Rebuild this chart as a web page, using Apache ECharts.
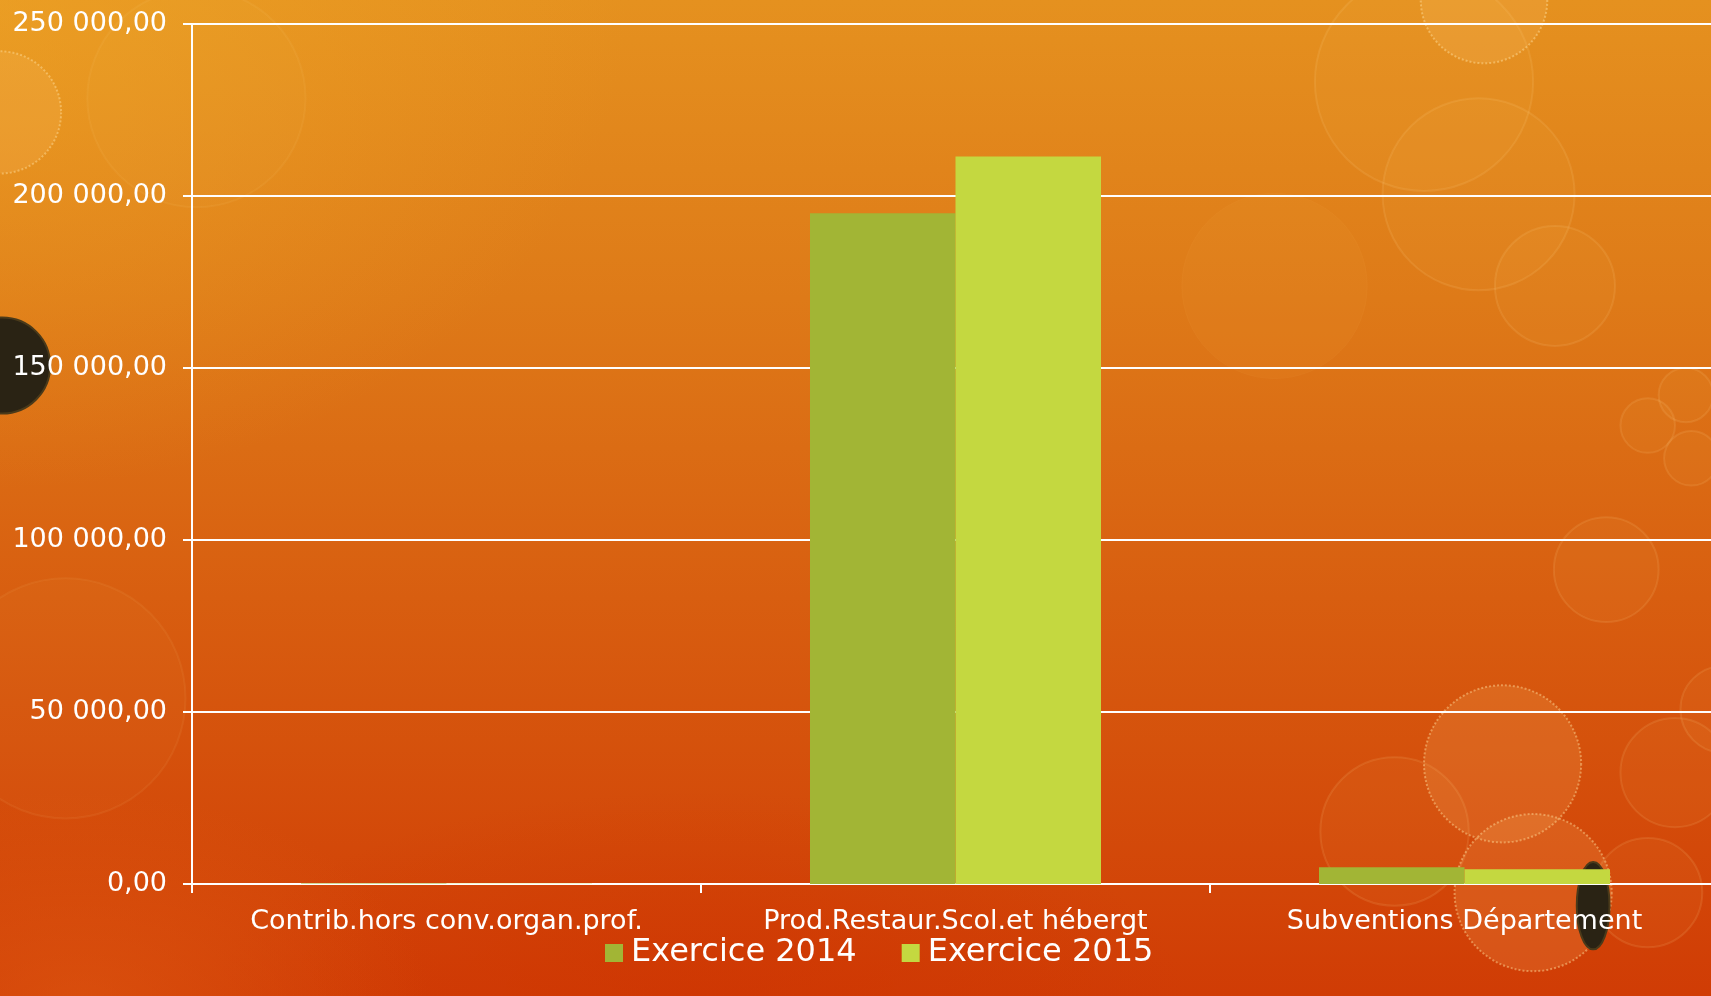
<!DOCTYPE html>
<html>
<head>
<meta charset="utf-8">
<script src="https://cdn.jsdelivr.net/npm/echarts@6/dist/echarts.min.js"></script>
<style>
html,body{margin:0;padding:0;width:1711px;height:996px;overflow:hidden;}
#c{width:1719px;height:996px;
background:
 radial-gradient(ellipse 900px 700px at 0px 0px, rgba(240,170,40,0.5), rgba(240,170,40,0) 70%),
 radial-gradient(ellipse 500px 300px at 80px 1000px, rgba(225,95,20,0.5), rgba(225,95,20,0) 70%),
 radial-gradient(ellipse 700px 300px at 700px 1000px, rgba(205,50,0,0.5), rgba(205,50,0,0) 70%),
 linear-gradient(to bottom, #E5911F 0%, #DE7A18 30%, #D85E10 60%, #D03C05 100%);}
</style>
</head>
<body>
<div id="c"></div>
<script>
const categories = ['Contrib.hors conv.organ.prof.', 'Prod.Restaur.Scol.et hébergt', 'Subventions Département'];
const seriesNames = ['Exercice 2014', 'Exercice 2015'];
const values2014 = [150, 195000, 4900];
const values2015 = [100, 211500, 4300];
const yTicks = [0, 50000, 100000, 150000, 200000, 250000];

const FONT = '"DejaVu Sans", Verdana, sans-serif';
function fmt(v){
  const s = Math.round(v).toString().replace(/\B(?=(\d{3})+(?!\d))/g, ' ');
  return s + ',00';
}
const S = 1711/1568;
function circ(cx, cy, r, style){
  return {type:'circle', silent:true, z:-10, shape:{cx:cx*S, cy:cy*S, r:r*S}, style:style};
}
const faint = {fill:'rgba(255,210,120,0.05)', stroke:'rgba(255,220,150,0.13)', lineWidth:2};
const veryFaint = {fill:'rgba(255,210,120,0.03)', stroke:'rgba(255,220,150,0.07)', lineWidth:2};
const faintFill = {fill:'rgba(255,190,80,0.06)', stroke:'rgba(255,200,120,0.05)', lineWidth:1};
const dotted = {fill:'rgba(255,200,120,0.16)', stroke:'rgba(255,225,160,0.45)', lineWidth:2, lineDash:[2,2]};
const dark = {fill:'#2a2314', stroke:'#4a3a1a', lineWidth:2};

const chart = echarts.init(document.getElementById('c'), null, {renderer:'canvas'});
chart.setOption({
  backgroundColor: 'transparent',
  animation: false,
  textStyle: {fontFamily: FONT},
  graphic: [
    circ(1305, 75, 100, faint),
    circ(1355, 178, 88, faint),
    circ(1425, 262, 55, faint),
    circ(1168, 262, 85, faintFill),
    circ(180, 90, 100, veryFaint),
    circ(60, 640, 110, veryFaint),
    circ(1472, 522, 48, faint),
    circ(1510, 390, 25, faint),
    circ(1545, 362, 25, faint),
    circ(1550, 420, 25, faint),
    circ(1535, 708, 50, faint),
    circ(1510, 818, 50, faint),
    circ(1278, 762, 68, faint),
    circ(1580, 650, 40, faint),
    circ(1360, 0, 58, dotted),
    circ(0, 103, 56, dotted),
    circ(1377, 700, 72, dotted),
    circ(1405, 818, 72, dotted),
    circ(2, 335, 44, dark),
    {type:'ellipse', silent:true, z:-9, shape:{cx:1460*S, cy:830*S, rx:15*S, ry:40*S}, style:dark}
  ],
  grid: {left: 192, right: 0, top: 24, bottom: 112, containLabel: false},
  legend: {
    data: seriesNames,
    left: 605, top: 937, padding: 0,
    itemWidth: 18, itemHeight: 18, itemGap: 45,
    icon: 'rect',
    textStyle: {color: '#fff', fontSize: 32, fontFamily: FONT, padding:[0,0,0,3]}
  },
  xAxis: {
    type: 'category',
    data: categories,
    axisLine: {lineStyle: {color: '#fff', width: 2}},
    axisTick: {show: true, length: 9, interval: 0, lineStyle: {color: '#fff', width: 2}},
    axisLabel: {color: '#fff', fontSize: 27, fontFamily: FONT, margin: 24, interval: 0}
  },
  yAxis: {
    type: 'value',
    min: yTicks[0], max: yTicks[yTicks.length-1], interval: yTicks[1]-yTicks[0],
    axisLine: {show: true, lineStyle: {color: '#fff', width: 2}},
    axisTick: {show: true, length: 9, lineStyle: {color: '#fff', width: 2}},
    axisLabel: {color: '#fff', fontSize: 27, fontFamily: FONT, margin: 25, formatter: fmt},
    splitLine: {show: true, lineStyle: {color: '#fff', width: 2}}
  },
  series: [
    {name: seriesNames[0], type: 'bar', data: values2014, barWidth: 145.5, barGap: '0%',
     itemStyle: {color: '#A2B535'}},
    {name: seriesNames[1], type: 'bar', data: values2015, barWidth: 145.5, barGap: '0%',
     itemStyle: {color: '#C4D840'}}
  ]
});
</script>
</body>
</html>
